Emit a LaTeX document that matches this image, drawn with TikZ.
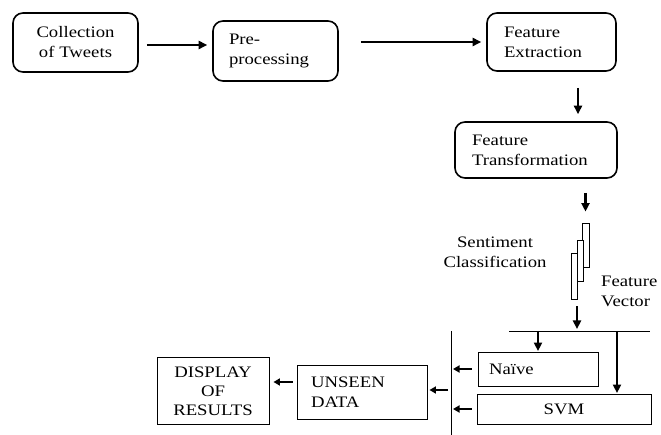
\documentclass[tikz,border=0pt]{standalone}
\usepackage{fontspec}
\setmainfont{Liberation Serif}[FakeStretch=1.17]
\usetikzlibrary{arrows.meta}
\tikzset{
  every node/.style={font=\fontsize{16}{20}\selectfont, inner sep=0pt},
  rbox/.style={draw, line width=1.6pt, rounded corners=10pt},
  sbox/.style={draw, line width=0.9pt},
  arr/.style={line width=2.4pt, -{Triangle[length=8.5pt,width=8pt]}},
  sarr/.style={line width=2.4pt, -{Triangle[length=6.5pt,width=7pt]}},
  thin line/.style={line width=0.9pt},
  vbar/.style={draw, line width=0.8pt, fill=white, inner sep=0pt},
}
\begin{document}
\begin{tikzpicture}[x=1pt,y=-1pt]
\useasboundingbox (0,0) rectangle (661,435);
% rounded boxes
\node[rbox, minimum width=125pt, minimum height=59pt, align=center] (coll) at (75.5,42.5) {Collection\\of Tweets};
\node[rbox, minimum width=125pt, minimum height=60pt, inner xsep=16pt, text width=93pt, align=left] (pre) at (275.5,51) {Pre-\\processing};
\node[rbox, minimum width=129pt, minimum height=58pt, inner xsep=17pt, text width=95pt, align=left] (fe) at (551.5,42) {Feature\\Extraction};
\node[rbox, minimum width=162pt, minimum height=56pt, inner xsep=17pt, text width=128pt, align=left] (ft) at (536,150) {Feature\\Transformation};
% feature vector bars
\node[vbar, minimum width=7pt, minimum height=44pt] (v1) at (585.5,245) {};
\node[vbar, minimum width=6pt, minimum height=41pt] (v2) at (580,260.5) {};
\node[vbar, minimum width=5.5pt, minimum height=46pt] (v3) at (574.5,276) {};
\node[align=center] (senti) at (495,252.5) {Sentiment\\Classification};
\node[anchor=west, align=left] (fvec) at (601,291.5) {Feature\\Vector};
% lower boxes
\node[sbox, minimum width=120pt, minimum height=34pt, inner xsep=11pt, text width=98pt, align=left] (naive) at (538,369) {Naïve};
\node[sbox, minimum width=174pt, minimum height=30pt, align=center] (svm) at (564,409) {SVM};
\node[sbox, minimum width=130pt, minimum height=54pt, inner xsep=14pt, text width=102pt, align=left] (unseen) at (362,392) {UNSEEN\\DATA};
\node[sbox, minimum width=112pt, minimum height=67pt, align=center] (disp) at (213,391) {DISPLAY\\[-1pt]OF\\[-1pt]RESULTS};
% lines
\coordinate (hL) at (509,331);
\coordinate (hR) at (650,331);
\coordinate (vT) at (451,331);
\coordinate (vB) at (451,435);
\draw[thin line] (hL) -- (hR);
\draw[thin line] (vT) -- (vB);
% connectors
\draw[arr, shorten <=8pt, shorten >=5pt] ([yshift=-2.5pt]coll.east) -- ([yshift=-2.5pt]coll.east -| pre.west);
\draw[arr, shorten <=22pt, shorten >=5pt] (pre.east |- fe.west) -- (fe.west);
\draw[arr, shorten <=16pt, shorten >=7pt] ([xshift=26.5pt]fe.south) -- ([xshift=26.5pt]fe.south |- ft.north);
\draw[arr, shorten <=14pt, shorten >=11pt] (v1.north |- ft.south) -- (v1.north);
\draw[arr, shorten <=7pt, shorten >=2pt] ([xshift=2.5pt]v3.south) -- ([xshift=2.5pt]v3.south |- hL);
\draw[arr, shorten >=0.5pt] (hL -| naive.north) -- (naive.north);
\coordinate (svmtop) at ([xshift=53pt]svm.north);
\draw[arr, shorten >=0.5pt] (hL -| svmtop) -- (svmtop);
\draw[sarr, shorten <=6pt, shorten >=2pt] (naive.west) -- (naive.west -| vT);
\draw[sarr, shorten <=5pt, shorten >=2pt] (svm.west) -- (svm.west -| vT);
\draw[sarr, shorten <=3pt, shorten >=2pt] ([yshift=2pt]vT |- unseen.east) -- ([yshift=2pt]unseen.east);
\draw[sarr, shorten <=4pt, shorten >=4pt] ([yshift=10pt]unseen.west) -- ([yshift=10pt]unseen.west -| disp.east);
\end{tikzpicture}
\end{document}
